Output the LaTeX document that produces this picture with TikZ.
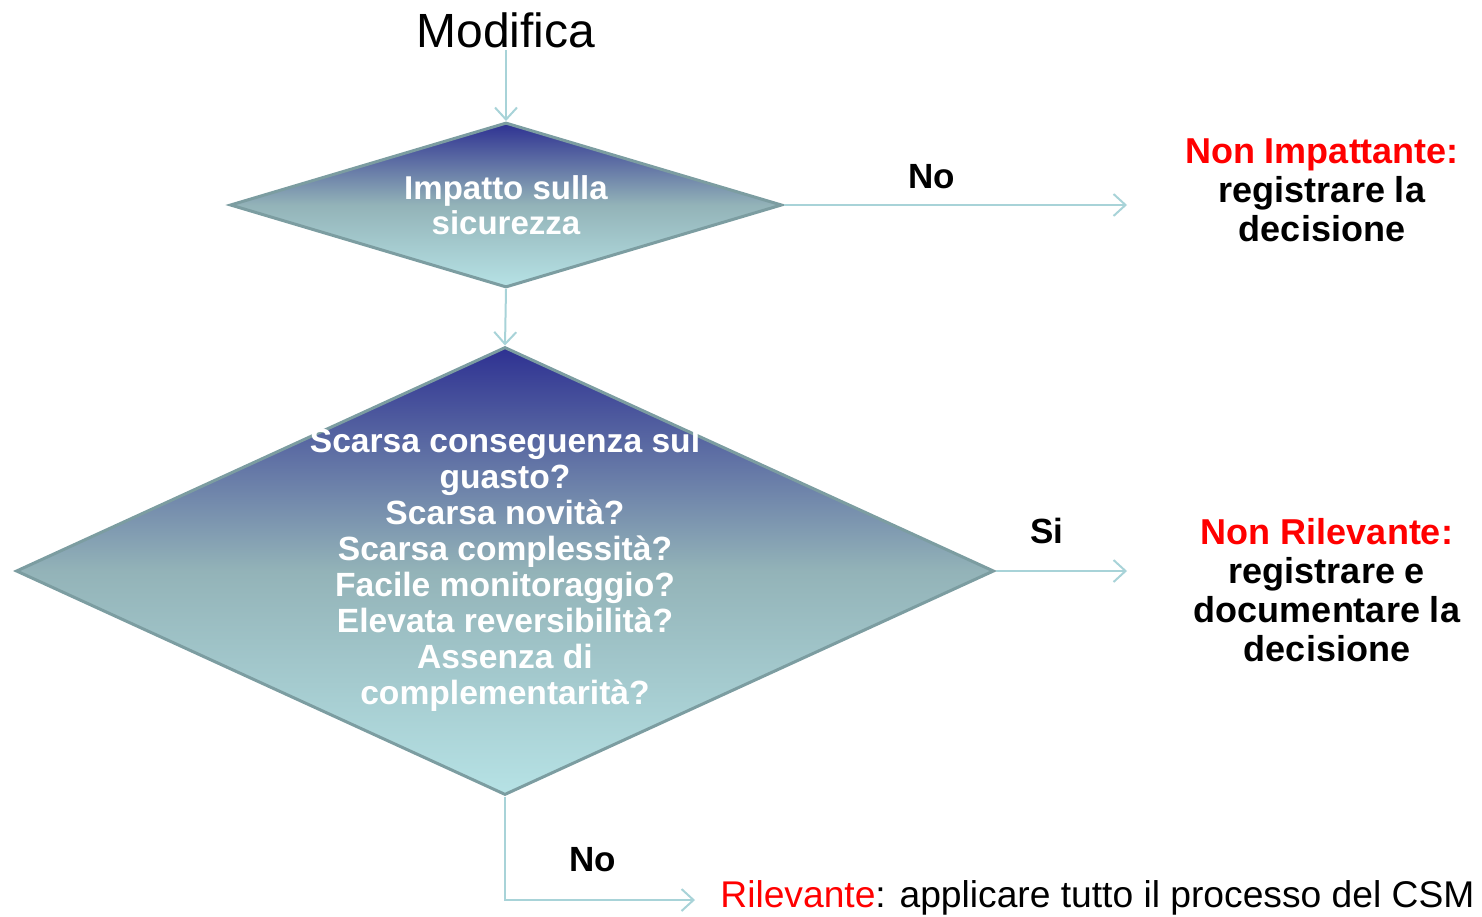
\documentclass[tikz,border=0pt]{standalone}
\usepackage{fontspec}
\setmainfont{Liberation Sans}
\usepackage{xcolor}
\usetikzlibrary{arrows.meta,positioning,shapes.geometric}

\definecolor{rombotop}{HTML}{2E3192}
\definecolor{rombomid}{HTML}{93B3B8}
\definecolor{rombobot}{HTML}{B6E2E5}
\definecolor{rombobordo}{HTML}{7C9DA1}
\definecolor{freccia}{HTML}{A8D3D8}
\definecolor{esito}{HTML}{FF0000}

\begin{document}
\begin{tikzpicture}[
  x=0.5pt, y=-0.5pt,
  decision/.style={diamond, draw=rombobordo, line width=1.5pt,
                   top color=rombotop, bottom color=rombobot, middle color=rombomid,
                   inner sep=0pt, align=center, text=white,
                   font=\fontsize{16.5}{17.5}\selectfont\bfseries},
  question/.style={align=center, text=white, inner sep=0pt,
                   font=\fontsize{16.8}{18}\selectfont\bfseries},
  outcome/.style={align=center, inner sep=2pt,
                  font=\fontsize{18}{19.5}\selectfont\bfseries},
  answer/.style={inner sep=1pt, font=\fontsize{17.5}{19}\selectfont\bfseries},
  arrow/.style={-{Straight Barb[length=6pt, width=11pt]}, line width=1pt, draw=freccia}
]
  \useasboundingbox (0,0) rectangle (1482,916);

  \node[font=\fontsize{24}{28}\selectfont, inner sep=1pt] (modifica) at (506,30) {Modifica};

  \node[decision, aspect=3.35, minimum width=276pt, minimum height=82.5pt] (impatto) at (506,205)
    {Impatto sulla\\sicurezza};
  \node[decision, aspect=2.18, minimum width=489pt, minimum height=224pt] (rilevanza) at (505,571) {};
  \node[question] (domande) at (505,570)
    {Scarsa conseguenza sul\\guasto?\\Scarsa novità?\\Scarsa complessità?\\
     Facile monitoraggio?\\Elevata reversibilità?\\Assenza di\\complementarità?};

  \node[outcome] (nonimp) at (1322,190)
    {\textcolor{esito}{Non Impattante:}\\registrare la\\decisione};
  \node[outcome] (nonril) at (1327,590)
    {\textcolor{esito}{Non Rilevante:}\\registrare e\\documentare la\\decisione};

  \coordinate (fineno) at (1127,205);
  \coordinate (finesi) at (1127,571);
  \coordinate (finerilev) at (695,900);

  \node[anchor=west, inner sep=0pt, font=\fontsize{18.6}{20}\selectfont] (rilev) at (720,898)
    {\textcolor{esito}{Rilevante}: applicare tutto il processo del CSM};

  \node[answer] (no1) at (932,177) {No};
  \node[answer] (si) at (1047,531) {Si};
  \node[answer] (no2) at (593,860) {No};

  \draw[arrow] (modifica.south) -- (impatto.north);
  \draw[arrow] (impatto.south) -- (rilevanza.north);
  \draw[arrow] (impatto.east) -- (fineno);
  \draw[arrow] (rilevanza.east) -- (finesi);
  \draw[arrow] (rilevanza.south) |- (finerilev);
\end{tikzpicture}
\end{document}
